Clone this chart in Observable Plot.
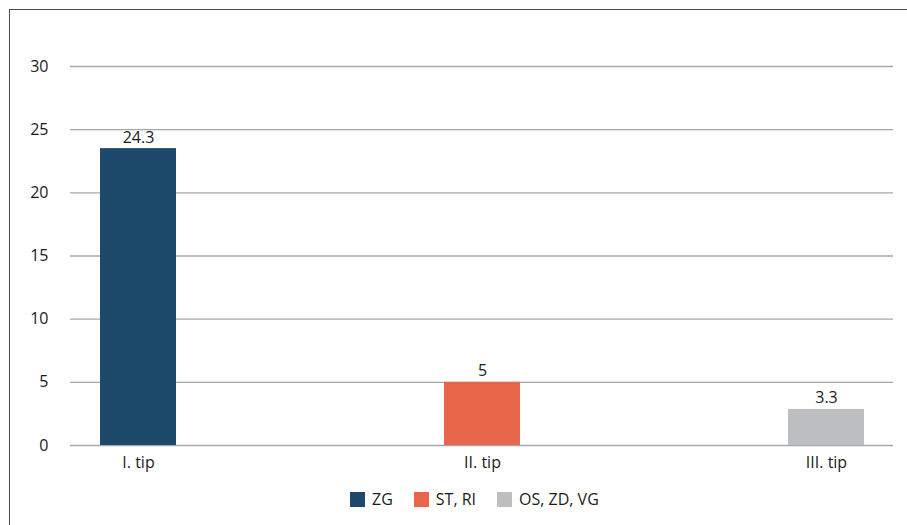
<!DOCTYPE html>
<html>
<head>
<meta charset="utf-8">
<script src="https://cdn.jsdelivr.net/npm/d3@7"></script>
<script src="https://cdn.jsdelivr.net/npm/@observablehq/plot@0.6"></script>
<style>
  html, body { margin: 0; padding: 0; background: #fff; }
  body { width: 907px; height: 525px; position: relative; overflow: hidden; font-family: "Open Sans", sans-serif; }
  #frame { position: absolute; left: 9px; top: 9px; width: 1200px; height: 1200px; border-left: 1.5px solid #4a4a4a; border-top: 1.5px solid #4a4a4a; box-sizing: border-box; }
  #chart { position: absolute; left: 0; top: 0; }
  #legend { position: absolute; left: 350px; top: 488px; display: flex; justify-content: flex-start; font-size: 16px; line-height: 22px; color: #1a1a1a; }
  .item { display: flex; align-items: center; margin-right: 21px; }
  .sw { width: 15px; height: 15px; margin-right: 7px; }
</style>
</head>
<body>
<div id="frame"></div>
<div id="chart"></div>
<div id="legend"></div>
<script>
const categories = ["I. tip", "II. tip", "III. tip"];
const series = ["ZG", "ST, RI", "OS, ZD, VG"];
const values = [23.5, 5, 2.85];
const valueLabels = ["24.3", "5", "3.3"];
const colors = ["#1d4a6b", "#e8674a", "#bdbebf"];
const yTicks = [0, 5, 10, 15, 20, 25, 30];

const data = categories.map((c, i) => ({cat: c, series: series[i], value: values[i], label: valueLabels[i]}));

const chart = Plot.plot({
  width: 907,
  height: 480,
  marginLeft: 70,
  marginRight: 14,
  marginTop: 66,
  marginBottom: 35,
  style: {fontFamily: "'Open Sans', sans-serif", fontSize: "16px", color: "#1a1a1a", background: "transparent"},
  x: {domain: categories, paddingInner: 0.78, paddingOuter: 0.084, label: null},
  y: {domain: [0, 30], ticks: yTicks, label: null},
  color: {domain: series, range: colors},
  marks: [
    Plot.ruleY(yTicks, {stroke: "#a3a8ab", strokeWidth: 1.3}),
    Plot.barY(data, {x: "cat", y: "value", fill: "series"}),
    Plot.text(data, {x: "cat", y: "value", text: "label", lineAnchor: "bottom", dy: -6, fill: "#1a1a1a", fontSize: 16}),
    Plot.axisX({tickSize: 0, tickPadding: 11, fontSize: 16}),
    Plot.axisY({tickSize: 0, tickPadding: 22, ticks: yTicks, fontSize: 16})
  ]
});
document.getElementById("chart").appendChild(chart);

const legend = document.getElementById("legend");
series.forEach((s, i) => {
  const item = document.createElement("div");
  item.className = "item";
  const sw = document.createElement("div");
  sw.className = "sw";
  sw.style.background = chart.scale("color").apply(s);
  const t = document.createElement("span");
  t.textContent = s;
  item.appendChild(sw);
  item.appendChild(t);
  legend.appendChild(item);
});
</script>
</body>
</html>
